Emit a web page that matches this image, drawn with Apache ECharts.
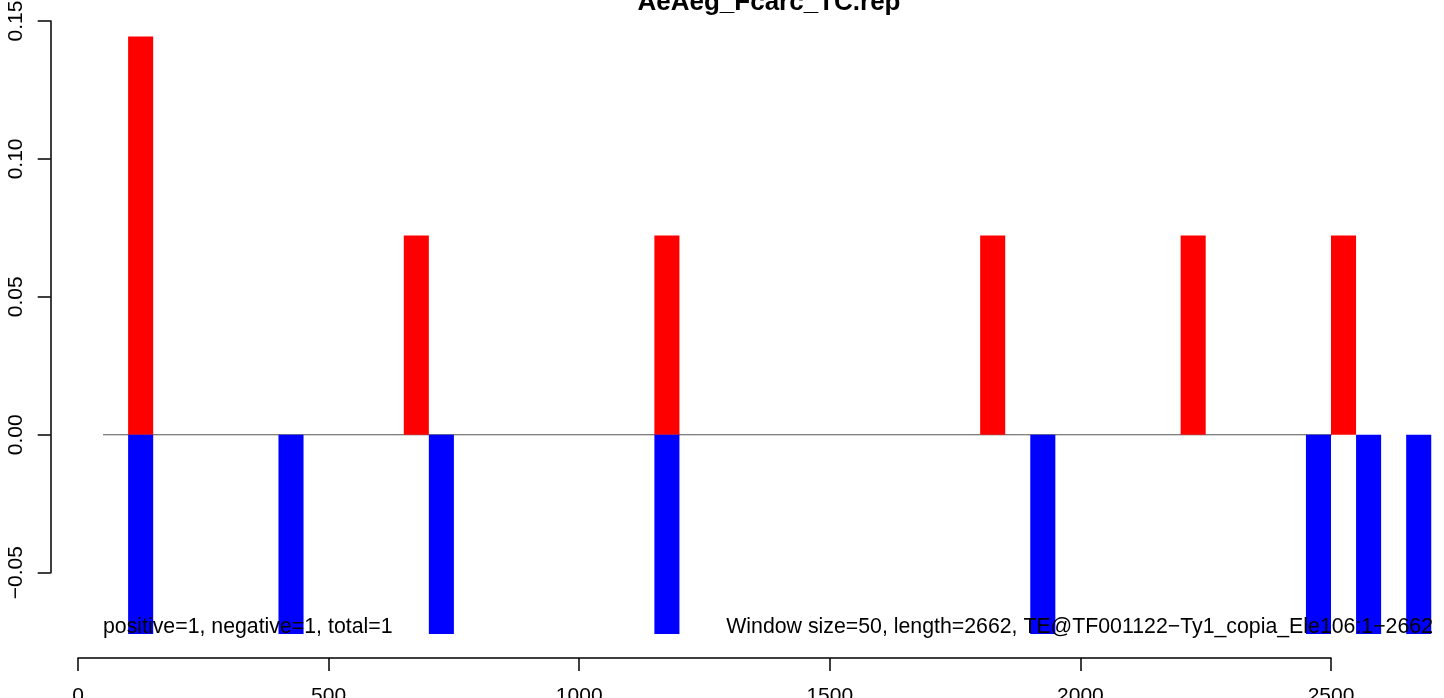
<!DOCTYPE html>
<html>
<head>
<meta charset="utf-8">
<script src="https://cdn.jsdelivr.net/npm/echarts@6/dist/echarts.min.js"></script>
<style>
html,body{margin:0;padding:0;background:#fff;overflow:hidden;}
#chart{width:1444px;height:698px;}
</style>
</head>
<body>
<div id="chart"></div>
<script>
// ---- data ----
var TITLE = 'AeAeg_Fcarc_TC.rep';
var WINDOW = 50;
var positiveStarts = [100, 650, 1150, 1800, 2200, 2500];
var positiveValues = [0.1444, 0.0722, 0.0722, 0.0722, 0.0722, 0.0722];
var negativeStarts = [100, 400, 700, 1150, 1900, 2450, 2550, 2650];
var negativeValues = [-0.0722, -0.0722, -0.0722, -0.0722, -0.0722, -0.0722, -0.0722, -0.0722];
var zeroLine = [[50, 0], [2700, 0]];
var xTicks = [0, 500, 1000, 1500, 2000, 2500];
var yTicks = [-0.05, 0.00, 0.05, 0.10, 0.15];
var leftNote = 'positive=1, negative=1, total=1';
var rightNote = 'Window size=50, length=2662, TE@TF001122\u2212Ty1_copia_Ele106:1\u22122662';

var FONT = '"Liberation Sans", Arial, Helvetica, sans-serif';

function pairs(xs, vs) { return xs.map(function (x, i) { return [x, vs[i]]; }); }

function barRenderer(color) {
  return function (params, api) {
    var x0 = api.value(0), v = api.value(1);
    var p0 = api.coord([x0, 0]);
    var p1 = api.coord([x0 + WINDOW, v]);
    return {
      type: 'rect',
      shape: { x: p0[0], y: Math.min(p0[1], p1[1]), width: p1[0] - p0[0], height: Math.abs(p1[1] - p0[1]) },
      style: { fill: color }
    };
  };
}

var chart = echarts.init(document.getElementById('chart'), null, { renderer: 'canvas' });
chart.setOption({
  animation: false,
  backgroundColor: '#ffffff',
  grid: { left: 78, right: 113, top: 21, bottom: 125.3, containLabel: false, outerBoundsMode: 'none' },
  xAxis: {
    type: 'value', min: xTicks[0], max: xTicks[xTicks.length - 1], interval: 500,
    position: 'bottom', offset: 85.3,
    axisLine: { show: true, onZero: false, lineStyle: { color: '#000', width: 1.5 } },
    axisTick: { show: true, inside: false, length: 13, lineStyle: { color: '#000', width: 1.5 } },
    axisLabel: { show: true, margin: 28, color: '#000', fontSize: 21, fontFamily: FONT,
      showMinLabel: true, showMaxLabel: true, hideOverlap: false,
      formatter: function (v) { return String(v); } },
    splitLine: { show: false }
  },
  yAxis: {
    type: 'value', min: yTicks[0], max: yTicks[yTicks.length - 1], interval: 0.05,
    position: 'left', offset: 27.3,
    axisLine: { show: true, onZero: false, lineStyle: { color: '#000', width: 1.5 } },
    axisTick: { show: true, inside: false, length: 13, lineStyle: { color: '#000', width: 1.5 } },
    axisLabel: { show: true, rotate: 90, margin: 24, color: '#000', fontSize: 21, fontFamily: FONT,
      showMinLabel: true, showMaxLabel: true, hideOverlap: false,
      formatter: function (v) { return v.toFixed(2).replace('-', '\u2212'); } },
    splitLine: { show: false }
  },
  series: [
    {
      type: 'line', data: zeroLine, symbol: 'none', clip: false, z: 1,
      lineStyle: { color: '#555555', width: 1 }, silent: true
    },
    {
      type: 'custom', data: pairs(positiveStarts, positiveValues), clip: false, z: 2,
      renderItem: barRenderer('#ff0000'), silent: true
    },
    {
      type: 'custom', data: pairs(negativeStarts, negativeValues), clip: false, z: 2,
      renderItem: barRenderer('#0000ff'), silent: true
    }
  ],
  graphic: [
    { type: 'text', x: 769, y: 3.3, z: 100,
      style: { text: TITLE, font: 'bold 26px ' + FONT, fill: '#000', align: 'center', verticalAlign: 'middle' } },
    { type: 'text', x: 103, y: 627.5, z: 100,
      style: { text: leftNote, font: '21.3px ' + FONT, fill: '#000', align: 'left', verticalAlign: 'middle' } },
    { type: 'text', x: 1433, y: 627.5, z: 100,
      style: { text: rightNote, font: '21.3px ' + FONT, fill: '#000', align: 'right', verticalAlign: 'middle' } }
  ]
});
</script>
</body>
</html>
